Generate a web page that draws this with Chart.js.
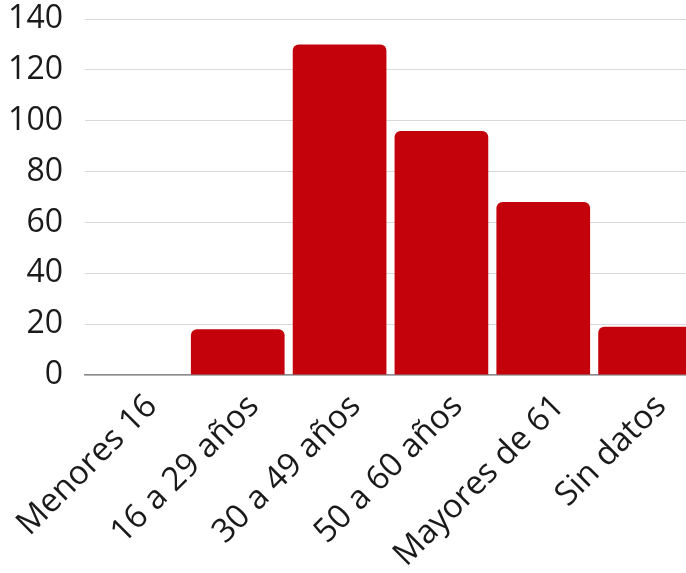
<!DOCTYPE html>
<html>
<head>
<meta charset="utf-8">
<script src="https://cdn.jsdelivr.net/npm/chart.js@4/dist/chart.umd.min.js"></script>
<style>
  html, body { margin: 0; padding: 0; background: #fff; overflow: hidden; }
  #wrap { width: 696px; height: 573px; }
</style>
</head>
<body>
<div id="wrap"><canvas id="ageChart" width="696" height="573"></canvas></div>
<script>
// Age groups and counts
const categories = ['Menores 16', '16 a 29 años', '30 a 49 años', '50 a 60 años', 'Mayores de 61', 'Sin datos'];
const counts = [0, 18, 130, 96, 68, 19];
const yTicks = [0, 20, 40, 60, 80, 100, 120, 140];

const ctx = document.getElementById('ageChart').getContext('2d');
const ageChart = new Chart(ctx, {
  type: 'bar',
  data: {
    labels: categories,
    datasets: [{
      data: counts,
      backgroundColor: '#c3020c',
      borderRadius: { topLeft: 6, topRight: 6, bottomLeft: 0, bottomRight: 0 },
      borderSkipped: 'bottom',
      categoryPercentage: 1,
      barPercentage: 0.92
    }]
  },
  options: {
    responsive: false,
    animation: false,
    layout: { padding: { top: 19, left: 0, right: 0, bottom: 0 } },
    plugins: {
      legend: { display: false },
      tooltip: { enabled: false }
    },
    scales: {
      x: {
        grid: { display: false },
        border: { color: '#8c8c8c', width: 1.5 },
        ticks: {
          color: '#1a1a1a',
          font: { family: 'Open Sans', size: 33 },
          minRotation: 45,
          maxRotation: 45,
          padding: 4,
          labelOffset: 16
        },
        afterFit: (scale) => {
          scale.height = 198;
          scale.paddingLeft = 0;
          scale.paddingRight = 0;
        }
      },
      y: {
        min: 0,
        max: 140,
        afterBuildTicks: (scale) => { scale.ticks = yTicks.map((v) => ({ value: v })); },
        grid: { color: '#d9d9d9', drawTicks: false },
        border: { display: false },
        ticks: {
          color: '#1a1a1a',
          font: { family: 'Open Sans', size: 32 },
          padding: 22
        },
        afterFit: (scale) => {
          scale.width = 85;
          scale.paddingTop = 0;
          scale.paddingBottom = 0;
        }
      }
    }
  }
});
</script>
</body>
</html>
